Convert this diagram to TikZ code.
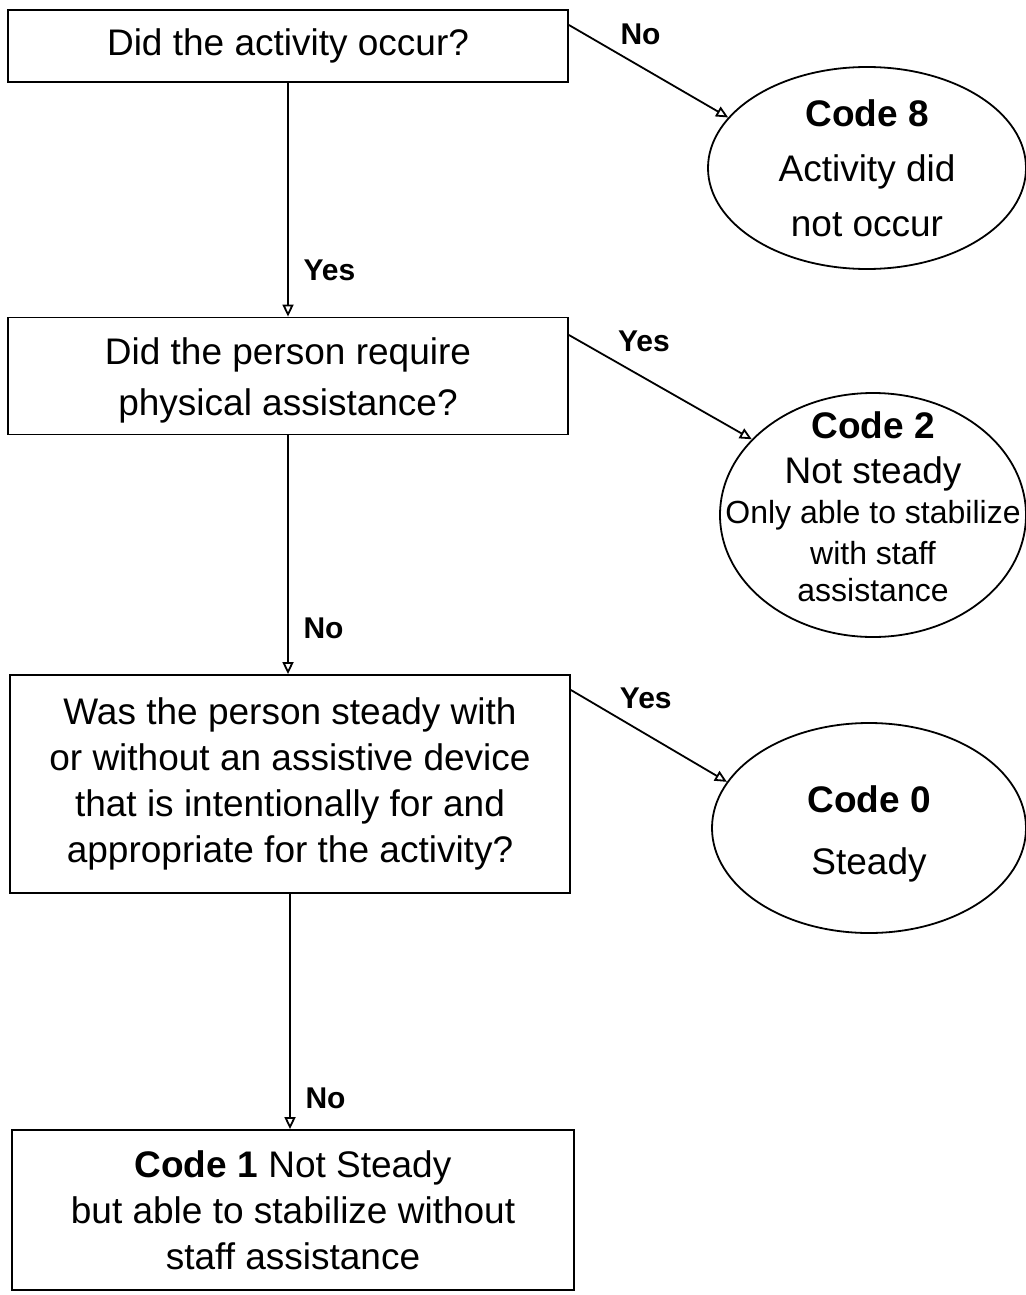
\documentclass[tikz,border=0pt]{standalone}
\usepackage{fontspec}
\setmainfont{Liberation Sans}
\usetikzlibrary{shapes.geometric,arrows.meta,positioning}

\begin{document}
\begin{tikzpicture}[x=0.5pt, y=-0.5pt, line width=0.9pt,
	>={Triangle[open,length=6pt,width=5.5pt]},
	question/.style={draw, rectangle, minimum width=280pt, align=center, inner sep=0pt,
		font=\fontsize{18.5}{23}\selectfont},
	oval/.style={draw, ellipse, inner sep=0pt},
	ovaltext/.style={align=center, inner sep=0pt, font=\fontsize{18.5}{27.5}\selectfont},
	answer/.style={font=\fontsize{15}{18}\selectfont\bfseries}]

\useasboundingbox (0,0) rectangle (1026,1295);

\node[question, minimum height=36pt] (occur) at (288,46) {Did the activity occur?};
\node[question, minimum height=58.5pt, font=\fontsize{18.5}{25.5}\selectfont] (assist) at (288,376)
	{\\[-8pt]Did the person require\\physical assistance?};
\node[question, minimum height=109pt] (steady) at (290,784)
	{Was the person steady with\\or without an assistive device\\that is intentionally for and\\appropriate for the activity?};
\node[question, minimum width=281pt, minimum height=80pt] (stabilize) at (293,1210)
	{\textbf{Code 1} Not Steady\\but able to stabilize without\\staff assistance};

\node[oval, minimum width=159pt, minimum height=101pt] (code8) at (867,168) {};
\node[ovaltext] (code8text) at (code8) {\textbf{Code 8}\\Activity did\\not occur};

\node[oval, minimum width=153pt, minimum height=122pt] (code2) at (873,515) {};
\node[ovaltext, font=\fontsize{18.5}{21}\selectfont] (code2text) at ([yshift=4pt]code2)
	{\textbf{Code 2}\\[1.5pt]Not steady\\[-1pt]{\fontsize{16}{20}\selectfont Only able to stabilize}\\[-0.5pt]
	{\fontsize{16}{20}\selectfont with staff}\\[-2.5pt]{\fontsize{16}{20}\selectfont assistance}};

\node[oval, minimum width=157pt, minimum height=105pt] (code0) at (869,828) {};
\node[ovaltext, font=\fontsize{18.5}{31}\selectfont] (code0text) at ([yshift=-3pt]code0) {\textbf{Code 0}\\Steady};

\draw[->] (occur.south) -- node[answer, right=4pt, pos=0.8] (yes1) {Yes} (assist.north);
\draw[->] (assist.south) -- node[answer, right=4pt, pos=0.81] (no2) {No} (assist.south |- steady.north);
\draw[->] (steady.south) -- node[answer, right=4pt, pos=0.87] (no3) {No} (steady.south |- stabilize.north);

\draw[->] ([yshift=10.5pt]occur.east) -- node[answer, above=7pt, pos=0.45] (no1) {No} (code8.160);
\draw[->] ([yshift=20.5pt]assist.east) -- node[answer, above=9pt, pos=0.41] (yes2) {Yes} (code2.148);
\draw[->] ([yshift=47pt]steady.east) -- node[answer, above=9pt, pos=0.48] (yes3) {Yes} (code0.162);
\end{tikzpicture}
\end{document}
